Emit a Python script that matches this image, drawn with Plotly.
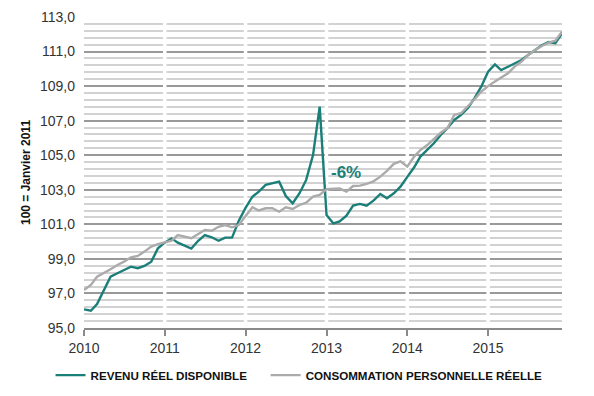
import plotly.graph_objects as go
import pandas as pd

months = pd.date_range("2010-01-01", "2015-12-01", freq="MS").strftime("%Y-%m-%d").tolist()

revenu = [96.08, 96.0, 96.39, 97.2, 97.97, 98.17, 98.36, 98.55, 98.46, 98.59, 98.84, 99.61,
          99.94, 100.19, 99.94, 99.75, 99.6, 100.05, 100.38, 100.25, 100.05, 100.23, 100.23, 101.2,
          101.95, 102.6, 102.89, 103.28, 103.38, 103.47, 102.64, 102.22, 102.8, 103.57, 105.01, 107.81,
          101.54, 101.05, 101.17, 101.5, 102.08, 102.18, 102.08, 102.37, 102.76, 102.51, 102.8, 103.18,
          103.75, 104.3, 104.92, 105.3, 105.69, 106.17, 106.56, 107.04, 107.33, 107.72, 108.3, 108.97,
          109.83, 110.26, 109.93, 110.12, 110.32, 110.51, 110.8, 111.1, 111.36, 111.55, 111.48, 112.05]

consommation = [97.2, 97.49, 97.97, 98.17, 98.4, 98.65, 98.84, 99.09, 99.17, 99.42, 99.71, 99.86,
                99.96, 100.05, 100.38, 100.29, 100.2, 100.44, 100.67, 100.63, 100.86, 100.96, 100.83, 100.96,
                101.5, 101.99, 101.8, 101.93, 101.93, 101.73, 101.99, 101.89, 102.12, 102.25, 102.6, 102.7,
                103.03, 103.03, 103.07, 102.89, 103.22, 103.24, 103.34, 103.49, 103.76, 104.09, 104.5, 104.65,
                104.34, 104.92, 105.3, 105.59, 105.92, 106.3, 106.56, 107.33, 107.43, 107.8, 108.24, 108.68,
                109.0, 109.26, 109.51, 109.74, 110.13, 110.42, 110.8, 111.09, 111.32, 111.51, 111.63, 112.15]

year_ticks = ["2010-01-01", "2011-01-01", "2012-01-01", "2013-01-01", "2014-01-01", "2015-01-01"]
year_labels = ["2010", "2011", "2012", "2013", "2014", "2015"]
y_ticks = [95, 97, 99, 101, 103, 105, 107, 109, 111, 113]
y_range = [95, 113]

TEAL = "#1b7f79"
GRAY = "#ababab"
FONT = "Liberation Sans"

fig = go.Figure()

# white separators breaking the horizontal grid at each year (drawn under the data lines)
gap_x, gap_y = [], []
for t in year_ticks[1:]:
    gap_x += [t, t, None]
    gap_y += [y_range[0] + 0.05, y_range[1] + 0.5, None]
fig.add_trace(go.Scatter(x=gap_x, y=gap_y, mode="lines", line=dict(color="white", width=3.5),
                         hoverinfo="skip", showlegend=False, cliponaxis=False))

fig.add_trace(go.Scatter(x=months, y=revenu, mode="lines", name="REVENU RÉEL DISPONIBLE",
                         line=dict(color=TEAL, width=2.4), legend="legend"))
fig.add_trace(go.Scatter(x=months, y=consommation, mode="lines", name="CONSOMMATION PERSONNELLE RÉELLE",
                         line=dict(color=GRAY, width=2.4), legend="legend2"))

legend_font = dict(family=FONT, size=11.6, color="#111111", weight="bold")

fig.update_layout(
    width=594, height=396,
    margin=dict(l=84, r=32, t=17, b=68, autoexpand=False),
    paper_bgcolor="white", plot_bgcolor="white",
    separators=", ",
    font=dict(family=FONT, size=14, color="#333333"),
    showlegend=True,
    legend=dict(orientation="h", x=-0.07, xanchor="left", y=-0.105, yanchor="top",
                font=legend_font, itemwidth=30, bgcolor="rgba(0,0,0,0)"),
    legend2=dict(orientation="h", x=0.38, xanchor="left", y=-0.105, yanchor="top",
                 font=legend_font, itemwidth=30, bgcolor="rgba(0,0,0,0)"),
    xaxis=dict(
        type="date",
        range=["2010-01-01", "2015-12-01"],
        tickvals=year_ticks, ticktext=year_labels,
        showgrid=False, zeroline=False,
        showline=True, linecolor="#8a8a8a", linewidth=1.5,
        ticks="outside", ticklen=6, tickcolor="#8a8a8a", tickwidth=1.5,
        tickfont=dict(size=14, color="#333333"),
    ),
    yaxis=dict(
        range=y_range,
        tickvals=y_ticks, tickformat=".1f",
        showgrid=True, gridcolor="#999999", gridwidth=1.5,
        zeroline=False, showline=False,
        minor=dict(tick0=95, dtick=0.4, showgrid=True, gridcolor="#d2d2d2", gridwidth=2),
        ticks="", ticklen=0, ticklabelstandoff=8,
        tickfont=dict(size=14, color="#333333"),
        title=dict(text="<b>100 = Janvier 2011</b>", font=dict(size=12, color="#111111"), standoff=6),
    ),
    annotations=[dict(x="2013-01-12", y=104.0, xref="x", yref="y", text="<b>-6%</b>",
                      showarrow=False, xanchor="left", yanchor="middle",
                      font=dict(family=FONT, size=17, color=TEAL))],
)

fig.write_html("out.html", config={"displayModeBar": False},
               post_script="document.body.style.margin='0';")
